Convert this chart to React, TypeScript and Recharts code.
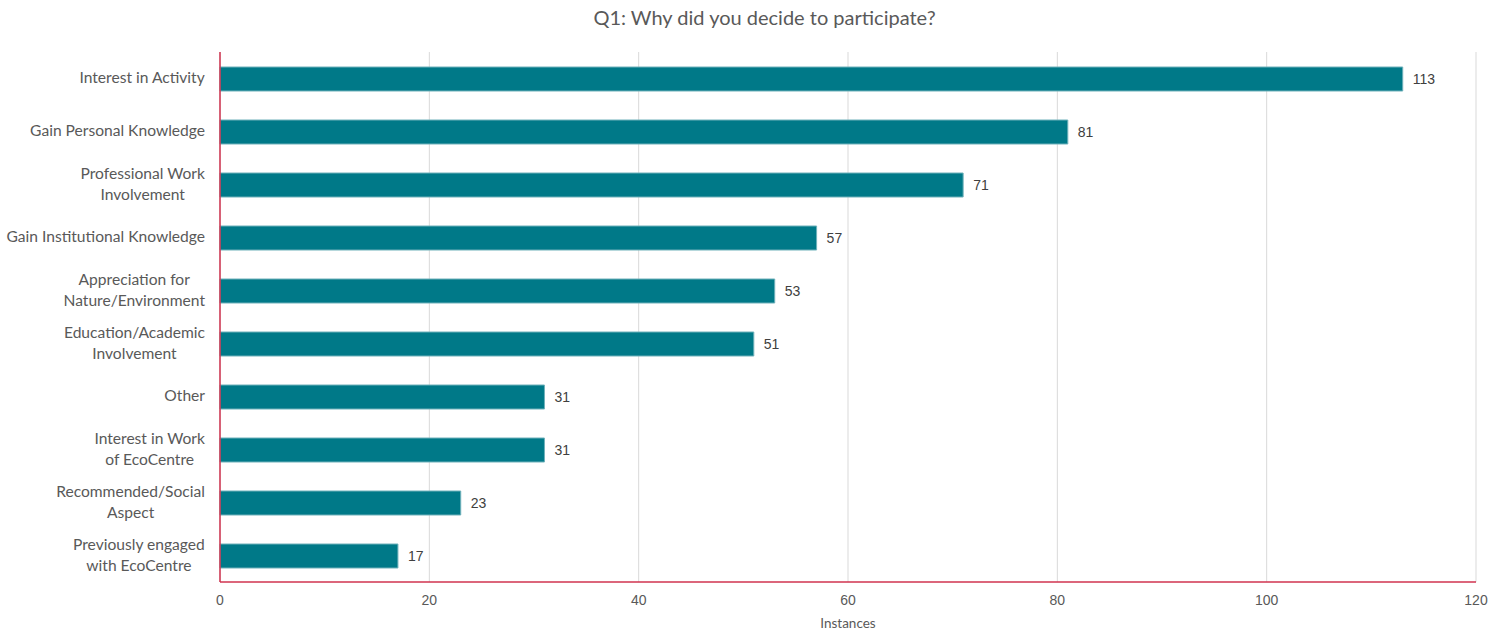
import { BarChart, Bar, XAxis, YAxis, CartesianGrid, LabelList } from 'recharts';

const categories = [
  'Interest in Activity',
  'Gain Personal Knowledge',
  'Professional Work\nInvolvement',
  'Gain Institutional Knowledge',
  'Appreciation for\nNature/Environment',
  'Education/Academic\nInvolvement',
  'Other',
  'Interest in Work\nof EcoCentre',
  'Recommended/Social\nAspect',
  'Previously engaged\nwith EcoCentre',
];
const instances = [113, 81, 71, 57, 53, 51, 31, 31, 23, 17];
const xTicks = [0, 20, 40, 60, 80, 100, 120];

const data = categories.map((name, i) => ({ name, value: instances[i] }));

const LABEL_SIZE = 15.6;
let ctx: CanvasRenderingContext2D | null = null;
const measure = (s: string) => {
  if (!ctx) ctx = document.createElement('canvas').getContext('2d');
  if (!ctx) return s.length * 7;
  ctx.font = `${LABEL_SIZE}px Lato`;
  return ctx.measureText(s).width;
};

const CategoryTick = ({ y, payload }: any) => {
  const lines = String(payload.value).split('\n');
  const w = Math.max(...lines.map(measure));
  const cx = 205 - w / 2;
  const step = 21;
  const start = y - 1.5 - ((lines.length - 1) * step) / 2;
  return (
    <text x={cx} y={start} textAnchor="middle" fill="#595959" fontFamily="Lato" fontSize={LABEL_SIZE}>
      {lines.map((l, i) => (
        <tspan key={i} x={cx} y={start + i * step} dominantBaseline="central">
          {l}
        </tspan>
      ))}
    </text>
  );
};

export default function App() {
  return (
    <div style={{ position: 'absolute', left: 0, top: 0, width: 1507, height: 633, background: '#fff' }}>
      <div
        style={{
          position: 'absolute',
          top: 5,
          left: 11,
          width: 1507,
          textAlign: 'center',
          fontFamily: 'Lato',
          fontSize: 20,
          color: '#595959',
        }}
      >
        Q1: Why did you decide to participate?
      </div>
      <BarChart
        width={1507}
        height={633}
        data={data}
        layout="vertical"
        margin={{ top: 52, right: 31, left: 0, bottom: 0 }}
      >
        <CartesianGrid horizontal={false} stroke="#D9D9D9" />
        <XAxis
          type="number"
          domain={[0, 120]}
          ticks={xTicks}
          height={51}
          tickLine={false}
          axisLine={{ stroke: '#D0334F', strokeWidth: 1.5 }}
          tick={{ fill: '#595959', fontSize: 14, fontFamily: 'Liberation Sans' }}
          tickMargin={7}
          label={{
            value: 'Instances',
            position: 'insideBottom',
            offset: 5,
            fill: '#595959',
            fontSize: 13.5,
            fontFamily: 'Lato',
          }}
        />
        <YAxis
          type="category"
          dataKey="name"
          width={220}
          tickLine={false}
          axisLine={{ stroke: '#D0334F', strokeWidth: 1.5 }}
          tick={<CategoryTick />}
          interval={0}
        />
        <Bar dataKey="value" fill="#007988" stroke="#6fb1ba" strokeWidth={1} barSize={24} isAnimationActive={false}>
          <LabelList
            dataKey="value"
            position="right"
            offset={10}
            fill="#404040"
            fontSize={14}
            fontFamily="Liberation Sans"
          />
        </Bar>
      </BarChart>
    </div>
  );
}
